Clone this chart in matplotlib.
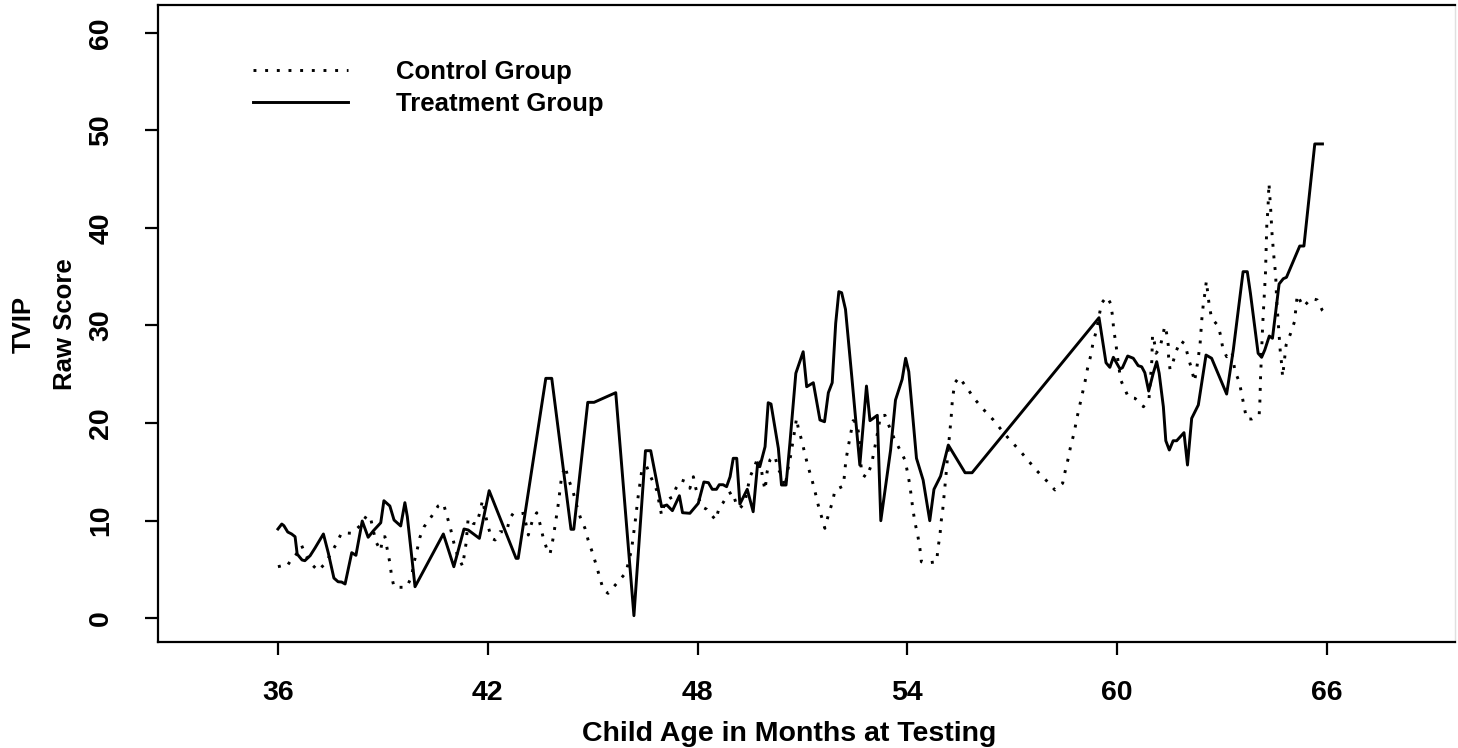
import numpy as np
import matplotlib
matplotlib.use("Agg")
import matplotlib.pyplot as plt

# treatment group (solid line)
treat_age = np.array([
	36.00, 36.11, 36.17, 36.28, 36.39, 36.49, 36.55, 36.69, 36.77, 36.92,
	37.06, 37.30, 37.44, 37.60, 37.72, 37.82, 37.92, 38.11, 38.23, 38.41,
	38.58, 38.73, 38.94, 39.03, 39.20, 39.32, 39.51, 39.63, 39.70, 39.92,
	40.73, 41.03, 41.32, 41.44, 41.76, 42.04, 42.81, 42.87, 43.66, 43.83,
	44.38, 44.46, 44.86, 45.04, 45.66, 46.18, 46.51, 46.66, 46.97, 47.12,
	47.28, 47.48, 47.57, 47.78, 48.02, 48.18, 48.31, 48.42, 48.54, 48.62,
	48.73, 48.83, 48.93, 49.02, 49.12, 49.21, 49.42, 49.59, 49.72, 49.78,
	49.93, 50.02, 50.10, 50.31, 50.40, 50.53, 50.64, 50.81, 51.02, 51.12,
	51.31, 51.50, 51.63, 51.74, 51.85, 51.95, 52.04, 52.12, 52.23, 52.41,
	52.64, 52.83, 52.93, 53.14, 53.24, 53.52, 53.66, 53.85, 53.95, 54.04,
	54.26, 54.45, 54.64, 54.76, 54.95, 55.17, 55.65, 55.85, 59.48, 59.68,
	59.79, 59.89, 60.08, 60.15, 60.30, 60.46, 60.60, 60.70, 60.79, 60.90,
	61.03, 61.13, 61.20, 61.32, 61.39, 61.49, 61.60, 61.70, 61.91, 62.01,
	62.13, 62.32, 62.54, 62.70, 63.13, 63.32, 63.60, 63.72, 63.81, 64.03,
	64.13, 64.22, 64.35, 64.44, 64.63, 64.75, 64.84, 65.22, 65.34, 65.65,
	65.87])
treat_score = np.array([
	9.13, 9.64, 9.47, 8.82, 8.62, 8.34, 6.56, 5.95, 5.88, 6.39,
	7.18, 8.62, 6.67, 4.10, 3.72, 3.69, 3.49, 6.70, 6.43, 9.95,
	8.28, 8.95, 9.77, 12.03, 11.49, 10.05, 9.44, 11.83, 10.39, 3.21,
	8.62, 5.26, 9.13, 9.03, 8.17, 13.06, 6.12, 6.12, 24.58, 24.58,
	9.10, 9.10, 22.12, 22.12, 23.11, 0.24, 17.16, 17.16, 11.42, 11.59,
	11.01, 12.54, 10.80, 10.74, 11.76, 13.95, 13.88, 13.20, 13.20, 13.67,
	13.67, 13.47, 14.49, 16.38, 16.38, 11.69, 13.20, 10.90, 15.93, 15.52,
	17.57, 22.08, 21.95, 17.41, 13.64, 13.64, 17.92, 25.10, 27.31, 23.72,
	24.13, 20.31, 20.13, 23.11, 24.13, 30.23, 33.47, 33.36, 31.66, 24.75,
	15.69, 23.79, 20.24, 20.79, 9.98, 17.23, 22.36, 24.48, 26.64, 25.26,
	16.38, 14.15, 9.98, 13.20, 14.56, 17.74, 14.90, 14.90, 30.80, 26.18,
	25.71, 26.74, 25.54, 25.67, 26.87, 26.64, 25.88, 25.77, 25.16, 23.28,
	25.10, 26.29, 25.10, 21.67, 18.18, 17.23, 18.18, 18.18, 19.01, 15.69,
	20.48, 21.85, 26.97, 26.64, 22.97, 27.49, 35.52, 35.52, 33.30, 27.15,
	26.74, 27.49, 28.92, 28.69, 34.26, 34.80, 34.94, 38.15, 38.15, 48.62,
	48.62])

# control group (dotted line)
ctrl_age = np.array([
	36.00, 36.11, 36.25, 36.39, 36.53, 36.68, 36.77, 36.92, 37.15, 37.37,
	37.54, 37.68, 37.82, 38.11, 38.34, 38.55, 38.65, 38.80, 38.94, 38.99,
	39.06, 39.13, 39.20, 39.25, 39.32, 39.68, 39.82, 39.89, 39.98, 40.06,
	40.18, 40.40, 40.58, 40.73, 40.84, 40.94, 41.03, 41.13, 41.28, 41.38,
	41.44, 41.58, 41.68, 41.78, 41.85, 41.99, 42.11, 42.21, 42.35, 42.54,
	42.63, 42.73, 42.90, 43.03, 43.16, 43.28, 43.40, 43.49, 43.59, 43.70,
	43.78, 43.86, 43.92, 44.02, 44.11, 44.21, 44.30, 44.44, 44.54, 44.64,
	44.78, 44.87, 45.00, 45.11, 45.21, 45.30, 45.44, 45.69, 45.95, 46.11,
	46.21, 46.30, 46.40, 46.54, 46.66, 46.83, 46.97, 47.07, 47.21, 47.30,
	47.38, 47.54, 47.67, 47.78, 47.88, 47.95, 48.02, 48.12, 48.26, 48.40,
	48.52, 48.62, 48.73, 48.88, 49.00, 49.10, 49.21, 49.35, 49.50, 49.61,
	49.69, 49.78, 49.86, 49.93, 49.99, 50.07, 50.21, 50.31, 50.40, 50.50,
	50.59, 50.66, 50.72, 50.78, 50.83, 50.88, 50.98, 51.07, 51.16, 51.26,
	51.36, 51.45, 51.55, 51.64, 51.74, 51.86, 51.93, 52.17, 52.24, 52.31,
	52.45, 52.55, 52.62, 52.69, 52.83, 52.97, 53.10, 53.17, 53.23, 53.36,
	53.50, 53.64, 53.79, 53.93, 54.00, 54.07, 54.16, 54.22, 54.30, 54.36,
	54.40, 54.56, 54.84, 54.87, 54.93, 54.96, 55.01, 55.10, 55.17, 55.25,
	55.29, 55.36, 55.48, 55.69, 55.93, 56.17, 56.46, 56.69, 56.93, 57.20,
	57.46, 57.70, 57.98, 58.22, 58.44, 58.51, 58.60, 58.67, 58.77, 58.84,
	58.92, 59.00, 59.08, 59.15, 59.24, 59.31, 59.41, 59.55, 59.70, 59.81,
	59.87, 59.90, 59.96, 60.00, 60.10, 60.22, 60.32, 60.51, 60.75, 60.91,
	60.96, 60.99, 61.01, 61.06, 61.11, 61.22, 61.30, 61.36, 61.41, 61.46,
	61.47, 61.51, 61.58, 61.68, 61.81, 61.94, 62.03, 62.13, 62.21, 62.27,
	62.32, 62.37, 62.42, 62.46, 62.51, 62.55, 62.63, 62.70, 62.89, 62.96,
	63.02, 63.13, 63.28, 63.37, 63.49, 63.56, 63.63, 63.70, 63.85, 64.06,
	64.08, 64.10, 64.13, 64.16, 64.20, 64.24, 64.26, 64.28, 64.31, 64.34,
	64.39, 64.43, 64.49, 64.53, 64.56, 64.66, 64.70, 64.73, 64.83, 64.96,
	65.07, 65.11, 65.15, 65.32, 65.56, 65.72, 65.87, 65.96])
ctrl_score = np.array([
	5.26, 5.36, 5.26, 6.05, 6.56, 7.42, 6.64, 5.67, 4.85, 5.67,
	6.80, 7.66, 8.75, 8.69, 9.44, 10.56, 10.23, 7.83, 6.90, 8.28,
	8.34, 6.97, 5.67, 4.31, 3.15, 3.15, 4.24, 5.67, 6.97, 8.28,
	9.36, 10.46, 11.49, 11.76, 10.39, 9.10, 7.72, 6.46, 5.33, 7.66,
	10.23, 9.71, 9.64, 10.90, 12.10, 9.64, 8.17, 8.00, 8.85, 8.85,
	10.23, 10.74, 10.67, 10.74, 8.51, 10.05, 10.80, 9.71, 8.17, 6.97,
	6.56, 8.00, 9.36, 11.76, 14.49, 15.59, 14.33, 12.95, 11.59, 10.39,
	9.20, 8.00, 6.64, 5.33, 4.07, 2.94, 2.53, 3.56, 4.65, 6.97,
	9.71, 12.44, 15.01, 15.59, 14.49, 13.13, 10.56, 11.93, 12.28, 12.44,
	13.30, 14.15, 13.98, 13.30, 14.49, 13.30, 12.44, 11.42, 11.15, 10.56,
	10.05, 11.35, 11.83, 12.72, 12.95, 11.76, 11.25, 11.83, 14.49, 15.35,
	16.13, 16.48, 14.33, 13.13, 15.01, 16.21, 16.62, 15.25, 14.67, 13.47,
	15.35, 16.62, 17.92, 19.28, 20.48, 19.46, 18.18, 16.82, 15.52, 14.33,
	12.95, 11.59, 10.33, 9.20, 10.56, 11.93, 13.13, 13.54, 16.13, 17.59,
	20.24, 20.03, 18.67, 14.77, 14.43, 15.69, 18.08, 19.46, 20.72, 20.79,
	19.46, 18.26, 17.23, 16.21, 15.01, 13.64, 11.08, 9.74, 8.41, 7.08,
	5.77, 5.64, 5.77, 7.08, 8.41, 9.74, 11.08, 14.49, 17.41, 20.48,
	22.53, 24.13, 24.69, 23.66, 22.43, 21.41, 20.31, 19.28, 18.26, 17.23,
	16.13, 15.11, 14.08, 13.13, 13.82, 15.01, 16.38, 17.64, 19.01, 20.38,
	21.67, 22.97, 24.24, 25.57, 26.87, 28.24, 29.54, 32.28, 32.95, 32.28,
	30.90, 29.54, 28.24, 26.97, 24.41, 23.46, 22.64, 22.53, 21.67, 22.53,
	25.03, 26.39, 29.03, 28.34, 27.15, 27.66, 28.92, 29.95, 29.26, 28.00,
	26.74, 25.51, 26.05, 27.31, 28.44, 28.10, 26.74, 25.51, 24.24, 25.51,
	26.74, 28.10, 30.64, 32.10, 33.36, 34.56, 32.10, 30.74, 29.95, 28.92,
	27.66, 26.80, 27.31, 25.26, 24.24, 22.97, 21.74, 20.41, 20.41, 20.82,
	22.18, 24.75, 27.42, 30.05, 32.69, 35.35, 37.92, 40.54, 41.85, 44.58,
	41.85, 39.28, 36.65, 35.28, 32.62, 27.49, 26.12, 24.75, 28.00, 29.20,
	30.39, 31.76, 33.13, 31.93, 32.79, 32.62, 31.52, 31.15])

x_ticks = [36, 42, 48, 54, 60, 66]
y_ticks = [0, 10, 20, 30, 40, 50, 60]

plt.rcParams['font.family'] = ['Liberation Sans', 'DejaVu Sans']
plt.rcParams['font.weight'] = 'bold'

fig = plt.figure(figsize=(14.58, 7.48), dpi=100)
ax = fig.add_axes([158/1458, 1-642/748, 1297/1458, 637/748])

ax.plot(ctrl_age, ctrl_score, color='black', lw=2.1, linestyle=(0, (1, 3)),
	dash_capstyle='butt', label='Control Group')
ax.plot(treat_age, treat_score, color='black', lw=2.1, label='Treatment Group')

ax.set_xlim(32.57, 69.66)
ax.set_ylim(-2.46, 62.87)
ax.set_xticks(x_ticks)
ax.set_yticks(y_ticks)

ax.tick_params(axis='both', length=9.5, width=1.6, labelsize=20.5)
ax.tick_params(axis='x', pad=18)
ax.tick_params(axis='y', pad=22, labelrotation=90)
for lab in ax.get_yticklabels():
	lab.set_va('center')

for s in ['left', 'bottom', 'top']:
	ax.spines[s].set_linewidth(1.6)
ax.spines['right'].set_color('#e0e0e0')
ax.spines['right'].set_linewidth(1.0)

ax.set_xlabel('Child Age in Months at Testing', fontsize=20.5, fontweight='bold')
ax.xaxis.set_label_coords((789-158)/1297, -(734-642)/637)
ax.xaxis.label.set_va('center')

fig.text(44/1458, 1-324/748, 'TVIP\nRaw Score', rotation=90, ha='center', va='center',
	multialignment='center', fontsize=18.5, fontweight='bold', linespacing=1.9)

leg = ax.legend(loc='upper left', bbox_to_anchor=((253-158)/1297, 1-(60-5)/637),
	frameon=False, fontsize=18.5, handlelength=3.7, handletextpad=1.85,
	labelspacing=0.3, borderpad=0, borderaxespad=0)

fig.savefig('out.png', dpi=100)
